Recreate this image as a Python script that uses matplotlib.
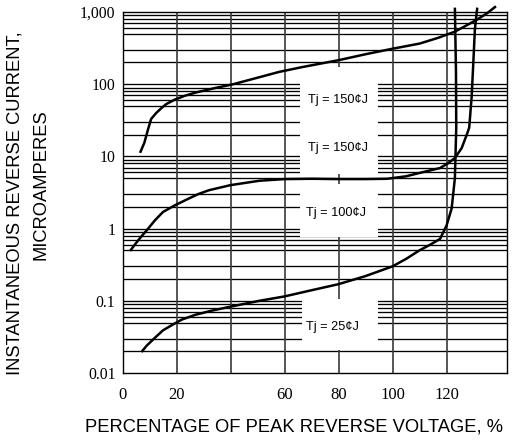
import numpy as np
import matplotlib
matplotlib.use("Agg")
import matplotlib.pyplot as plt
from matplotlib.patches import Rectangle

# curve readings: percentage of peak reverse voltage vs reverse current (uA)
x_150 = [6.5, 8.1, 9.5, 10.6, 12.5, 14.5, 16.2, 19.3, 23, 27.3, 34, 41, 50.7, 58,
         66.7, 80, 90, 100, 110, 117, 123.1, 127, 131.2, 135, 138.3]
y_150 = [11.2, 15.5, 24, 33, 40, 47, 53, 61, 69, 77, 88, 100, 125, 148,
         173, 215, 260, 310, 365, 440, 535, 640, 780, 960, 1200]

x_100 = [2.8, 5, 7, 9, 12, 15, 19.4, 24, 28, 32, 40, 50.7, 60, 70, 80, 90, 98,
         105, 110, 114, 117.6, 120.5, 123.1, 125.6, 127.5, 128.4, 129.3, 129.9,
         130.5, 131.2, 131.4]
y_100 = [0.49, 0.63, 0.78, 0.95, 1.3, 1.7, 2.1, 2.55, 3.0, 3.4, 4.0, 4.6, 4.85,
         4.9, 4.85, 4.85, 4.9, 5.3, 5.9, 6.4, 6.9, 8, 9.5, 13, 20, 25, 66, 190,
         570, 1000, 1150]

x_25 = [7, 9, 12.5, 15, 18.7, 22, 27, 33, 40, 50.7, 60, 70, 80, 90, 100, 105,
        110, 114, 117.6, 120, 121.9, 123.1, 123.6, 123.5, 123.1]
y_25 = [0.0195, 0.024, 0.032, 0.039, 0.047, 0.055, 0.064, 0.073, 0.083, 0.1,
        0.115, 0.14, 0.17, 0.22, 0.3, 0.38, 0.5, 0.6, 0.72, 1.1, 1.9, 5, 25,
        150, 1150]

labels = ["Tj = 150¢J", "Tj = 150¢J", "Tj = 100¢J", "Tj = 25¢J"]
label_x = [68.7, 68.7, 68.0, 67.8]
label_y = [60, 13.2, 1.67, 0.044]

xtick_vals = [0, 20, 60, 80, 100, 120]
xtick_text = ["0", "20", "60", "80", "100", "120"]
ytick_vals = [0.01, 0.1, 1, 10, 100, 1000]
ytick_text = ["0.01", "0.1", "1", "10", "100", "1,000"]
minor_steps = [2, 3, 5, 6, 7, 8, 9]

fig = plt.figure(figsize=(5.12, 4.43), dpi=100)
ax = fig.add_axes([122.5 / 512, 1 - 373 / 443, (507 - 122.5) / 512, (373 - 12) / 443])
ax.set_yscale("log")
ax.set_xlim(0, 142.4)
ax.set_ylim(0.01, 1000)

# grid
for d in ytick_vals[:-1]:
    for m in minor_steps:
        ax.axhline(d * m, color="black", lw=0.95, zorder=1)
for v in ytick_vals[1:-1]:
    ax.axhline(v, color="black", lw=0.95, zorder=1)
for v in [20, 40, 60, 80, 100, 120]:
    ax.axvline(v, color="#3a3a3a", lw=1.2, zorder=1)

# white boxes behind the temperature labels
for (x0, x1, y0, y1) in [(65.7, 94.6, 5.7, 172), (65.7, 94.6, 0.77, 4.1),
                         (66.5, 94.6, 0.021, 0.106)]:
    ax.add_patch(Rectangle((x0, y0), x1 - x0, y1 - y0, facecolor="white",
                           edgecolor="none", zorder=2))

for xs, ys in [(x_150, y_150), (x_100, y_100), (x_25, y_25)]:
    ax.plot(xs, ys, color="black", lw=1.8, zorder=3, clip_on=False,
            solid_joinstyle="round", solid_capstyle="butt")

for t, lx, ly in zip(labels, label_x, label_y):
    ax.text(lx, ly, t, fontsize=9.2, family="Liberation Sans", ha="left",
            va="center", zorder=4)

ax.set_xticks(xtick_vals)
ax.set_xticklabels(xtick_text, family="Liberation Serif", fontsize=12)
ax.set_yticks(ytick_vals)
ax.set_yticklabels(ytick_text, family="Liberation Serif", fontsize=11.3)
ax.yaxis.set_minor_locator(matplotlib.ticker.NullLocator())
ax.tick_params(axis="both", length=0)
ax.tick_params(axis="x", pad=10)
ax.tick_params(axis="y", pad=5)
for s in ax.spines.values():
    s.set_linewidth(1.0)
    s.set_zorder(5)

fig.text(294 / 512, 1 - 427 / 443, "PERCENTAGE OF PEAK REVERSE VOLTAGE, %",
         family="Liberation Sans", fontsize=13.2, ha="center", va="center")
fig.text(15 / 512, 1 - 203 / 443, "INSTANTANEOUS REVERSE CURRENT,",
         family="Liberation Sans", fontsize=13.2, ha="center", va="center",
         rotation=90)
fig.text(41 / 512, 1 - 185 / 443, "MICROAMPERES",
         family="Liberation Sans", fontsize=13.2, ha="center", va="center",
         rotation=90)

fig.savefig("out.png", dpi=100)
